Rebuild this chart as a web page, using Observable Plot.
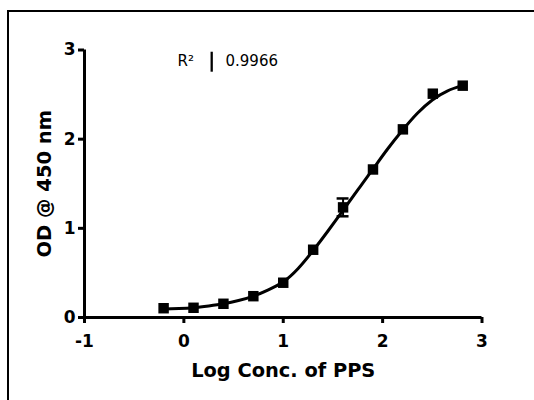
<!DOCTYPE html>
<html><head><meta charset="utf-8">
<script src="https://cdn.jsdelivr.net/npm/d3@7"></script>
<script src="https://cdn.jsdelivr.net/npm/@observablehq/plot@0.6"></script>
<style>
html,body{margin:0;padding:0;background:#fff;}
#wrap{position:relative;width:534px;height:400px;overflow:hidden;}
#border{position:absolute;left:7px;top:10px;width:600px;height:500px;border-left:2px solid #000;border-top:2px solid #000;}
#chart{position:absolute;left:0;top:0;}
</style></head><body>
<div id="wrap"><div id="border"></div><div id="chart"></div></div>
<script>
// Data
const logConc = [-0.204, 0.097, 0.398, 0.699, 1.0, 1.301, 1.602, 1.903, 2.204, 2.505, 2.806];
const odMean  = [0.104, 0.109, 0.154, 0.239, 0.39, 0.76, 1.235, 1.66, 2.11, 2.51, 2.60];
const odErr   = [0, 0, 0, 0, 0, 0, 0.10, 0, 0, 0, 0];
// fitted sigmoid curve
const fitX = [-0.2, -0.05, 0.1, 0.25, 0.4, 0.55, 0.7, 0.85, 1.0, 1.15, 1.3, 1.45, 1.6, 1.75, 1.9, 2.05, 2.2, 2.35, 2.5, 2.65, 2.8];
const fitY = [0.095, 0.10, 0.11, 0.13, 0.155, 0.19, 0.24, 0.31, 0.40, 0.55, 0.75, 0.97, 1.20, 1.43, 1.66, 1.89, 2.10, 2.29, 2.44, 2.54, 2.60];
const xTicks = [-1, 0, 1, 2, 3];
const yTicks = [0, 1, 2, 3];
const xTitle = "Log Conc. of PPS";
const yTitle = "OD @ 450 nm";
const r2Label = "R²";
const r2Value = "0.9966";

const points = logConc.map((x, i) => ({x, y: odMean[i], e: odErr[i]}));
const errPts = points.filter(d => d.e > 0);
const fit = fitX.map((x, i) => ({x, y: fitY[i]}));
const F = "DejaVu Sans, sans-serif";
const fmt = d => (d < 0 ? "-" + Math.abs(d) : String(d));

const chart = Plot.plot({
  width: 534, height: 400,
  marginLeft: 84, marginRight: 52.5, marginTop: 49.5, marginBottom: 83,
  x: {domain: [-1, 3]},
  y: {domain: [0, 3]},
  style: {fontFamily: F, background: "transparent", overflow: "visible", color: "#000"},
  marks: [
    Plot.axisX({ticks: xTicks, tickSize: 6, tickPadding: 11, strokeWidth: 3, fontSize: 17, fontWeight: "bold", fontFamily: F, tickFormat: fmt, label: null}),
    Plot.axisY({ticks: yTicks, tickSize: 6, tickPadding: 3, strokeWidth: 3, fontSize: 17, fontWeight: "bold", fontFamily: F, tickFormat: fmt, label: null}),
    Plot.ruleY([0], {strokeWidth: 3}),
    Plot.ruleX([-1], {strokeWidth: 3}),
    Plot.text([xTitle], {frameAnchor: "bottom", dy: 53, textAnchor: "middle", lineAnchor: "middle", fontSize: 19.4, fontWeight: "bold", fontFamily: F}),
    Plot.text([yTitle], {frameAnchor: "left", dx: -39.5, rotate: -90, textAnchor: "middle", lineAnchor: "middle", fontSize: 19.5, fontWeight: "bold", fontFamily: F}),
    Plot.line(fit, {x: "x", y: "y", curve: "natural", strokeWidth: 3, stroke: "#000"}),
    Plot.ruleX(errPts, {x: "x", y1: d => d.y - d.e, y2: d => d.y + d.e, strokeWidth: 2, stroke: "#000"}),
    Plot.ruleY(errPts, {y: d => d.y + d.e, x1: d => d.x - 0.06, x2: d => d.x + 0.06, strokeWidth: 2.5, stroke: "#000"}),
    Plot.ruleY(errPts, {y: d => d.y - d.e, x1: d => d.x - 0.06, x2: d => d.x + 0.06, strokeWidth: 2.5, stroke: "#000"}),
    Plot.dot(points, {x: "x", y: "y", symbol: "square", r: 5.9, fill: "#000", stroke: "none"}),
    Plot.text([r2Label], {x: -0.064, y: 2.871, textAnchor: "start", lineAnchor: "middle", fontSize: 15, fontFamily: F}),
    Plot.ruleX([0.28], {y1: 2.751, y2: 2.975, strokeWidth: 2.3, stroke: "#000"}),
    Plot.text([r2Value], {x: 0.419, y: 2.871, textAnchor: "start", lineAnchor: "middle", fontSize: 15, fontFamily: F})
  ]
});
document.getElementById("chart").appendChild(chart);
</script>
</body></html>
